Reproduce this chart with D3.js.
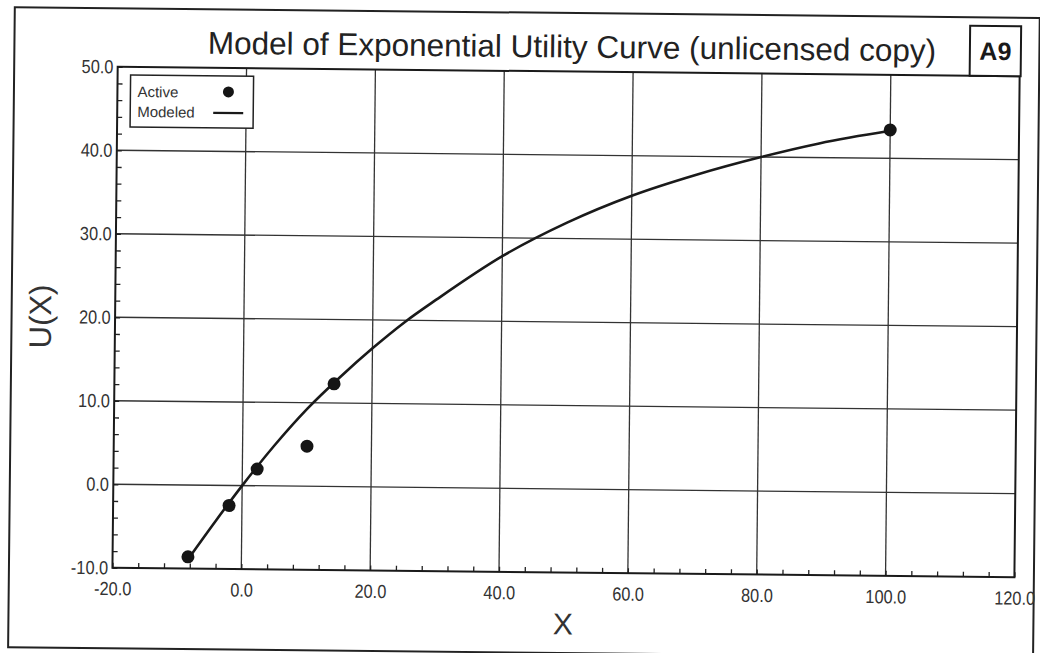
<!DOCTYPE html>
<html>
<head>
<meta charset="utf-8">
<script src="https://cdn.jsdelivr.net/npm/d3@7"></script>
<style>
  html, body { margin: 0; padding: 0; background: #fff; }
  svg { display: block; }
  text { font-family: "Liberation Sans", Arial, sans-serif; }
</style>
</head>
<body>
<script>
// ---- data ----
const activeX = [-8.3, -2.0, 2.3, 10.0, 14.1, 100.0];
const activeY = [-8.6, -2.4, 2.0, 4.8, 12.3, 43.4];
const modelX = [-8.3, -4, 0, 5, 10, 15, 20, 25, 30, 40, 50, 60, 70, 80, 89, 100];
const modelY = [-8.9, -4.2, 0, 4.9, 9.3, 13.1, 16.6, 19.8, 22.6, 27.8, 31.9, 35.2, 37.8, 40.0, 41.7, 43.3];
const xTicks = [-20, 0, 20, 40, 60, 80, 100, 120];
const yTicks = [-10, 0, 10, 20, 30, 40, 50];
const xMinor = d3.range(-20, 121, 4);
const yMinor = d3.range(-10, 51, 2);
const titleText = "Model of Exponential Utility Curve (unlicensed copy)";
const badgeText = "A9";
const xLabel = "X";
const yLabel = "U(X)";
const legendItems = ["Active", "Modeled"];

// ---- layout ----
const W = 1040, H = 653;
const L = 115, R = 1017, T = 71, B = 572;
const fmt = d => d.toFixed(1);

const svg = d3.select("body").append("svg").attr("width", W).attr("height", H);
svg.append("rect").attr("width", W).attr("height", H).attr("fill", "#fff");
const g = svg.append("g").attr("transform", "rotate(0.6, 520, 326)");

// outer frame
g.append("rect").attr("x", 11.5).attr("y", 12.5).attr("width", 1025).attr("height", 640)
  .attr("fill", "none").attr("stroke", "#222").attr("stroke-width", 2);

const x = d3.scaleLinear().domain([-20, 120]).range([L, R]);
const y = d3.scaleLinear().domain([-10, 50]).range([B, T]);

// grid
const grid = g.append("g").attr("stroke", "#333").attr("stroke-width", 1.3);
grid.selectAll("line.v").data(xTicks.slice(1, -1)).join("line")
  .attr("x1", d => x(d)).attr("x2", d => x(d)).attr("y1", T).attr("y2", B);
grid.selectAll("line.h").data(yTicks.slice(1, -1)).join("line")
  .attr("y1", d => y(d)).attr("y2", d => y(d)).attr("x1", L).attr("x2", R);

// minor ticks (inside)
const xm = g.append("g").attr("transform", `translate(0,${B})`)
  .call(d3.axisBottom(x).tickValues(xMinor).tickSize(-5).tickFormat(""));
xm.select(".domain").remove();
xm.selectAll("line").attr("stroke", "#222").attr("stroke-width", 1.3);
const ym = g.append("g").attr("transform", `translate(${L},0)`)
  .call(d3.axisLeft(y).tickValues(yMinor).tickSize(-5).tickFormat(""));
ym.select(".domain").remove();
ym.selectAll("line").attr("stroke", "#222").attr("stroke-width", 1.3);

// tick labels via axes (slightly condensed glyphs like the scan)
const xa = g.append("g").attr("transform", `translate(0,${B})`)
  .call(d3.axisBottom(x).tickValues(xTicks).tickSize(0).tickPadding(14).tickFormat(fmt));
xa.select(".domain").remove();
xa.selectAll("text").attr("font-size", 19).attr("fill", "#333")
  .attr("font-family", "'Liberation Sans', Arial, sans-serif")
  .attr("transform", "scale(0.86,1)");
const ya = g.append("g").attr("transform", `translate(${L},0)`)
  .call(d3.axisLeft(y).tickValues(yTicks).tickSize(0).tickPadding(5).tickFormat(fmt));
ya.select(".domain").remove();
ya.selectAll("text").attr("font-size", 19).attr("fill", "#333")
  .attr("font-family", "'Liberation Sans', Arial, sans-serif")
  .attr("transform", "scale(0.86,1)");

// plot frame
g.append("rect").attr("x", L).attr("y", T).attr("width", R - L).attr("height", B - T)
  .attr("fill", "none").attr("stroke", "#1a1a1a").attr("stroke-width", 2);

// modeled curve
const pts = modelX.map((d, i) => [d, modelY[i]]);
g.append("path").datum(pts)
  .attr("d", d3.line().x(d => x(d[0])).y(d => y(d[1])).curve(d3.curveMonotoneX))
  .attr("fill", "none").attr("stroke", "#1a1a1a").attr("stroke-width", 2.6);

// active points
g.selectAll("circle.pt").data(activeX.map((d, i) => [d, activeY[i]])).join("circle")
  .attr("cx", d => x(d[0])).attr("cy", d => y(d[1])).attr("r", 6.5).attr("fill", "#151515");

// title
g.append("text").attr("x", 569).attr("y", 57).attr("text-anchor", "middle")
  .attr("font-size", 31.5).attr("fill", "#222").text(titleText);

// badge
g.append("rect").attr("x", 967).attr("y", 21).attr("width", 51).attr("height", T - 21)
  .attr("fill", "#fff").attr("stroke", "#1a1a1a").attr("stroke-width", 2);
g.append("text").attr("x", 992.5).attr("y", 55).attr("text-anchor", "middle")
  .attr("font-size", 25).attr("font-weight", "bold").attr("fill", "#1a1a1a").text(badgeText);

// axis labels
g.append("text").attr("x", (L + R) / 2).attr("y", 634).attr("text-anchor", "middle")
  .attr("font-size", 30).attr("fill", "#333").text(xLabel);
g.append("text").attr("transform", `translate(51,${(T + B) / 2}) rotate(-90)`)
  .attr("text-anchor", "middle").attr("font-size", 31).attr("fill", "#333").text(yLabel);

// legend
const lg = g.append("g");
lg.append("rect").attr("x", 128).attr("y", 79).attr("width", 123).attr("height", 52)
  .attr("fill", "#fff").attr("stroke", "#222").attr("stroke-width", 1.5);
lg.append("text").attr("x", 135).attr("y", 101).attr("font-size", 15).attr("fill", "#333").text(legendItems[0]);
lg.append("text").attr("x", 135).attr("y", 121).attr("font-size", 15).attr("fill", "#333").text(legendItems[1]);
lg.append("circle").attr("cx", 226).attr("cy", 95).attr("r", 5.5).attr("fill", "#151515");
lg.append("line").attr("x1", 211).attr("x2", 241).attr("y1", 116).attr("y2", 116)
  .attr("stroke", "#1a1a1a").attr("stroke-width", 2.2);
</script>
</body>
</html>
